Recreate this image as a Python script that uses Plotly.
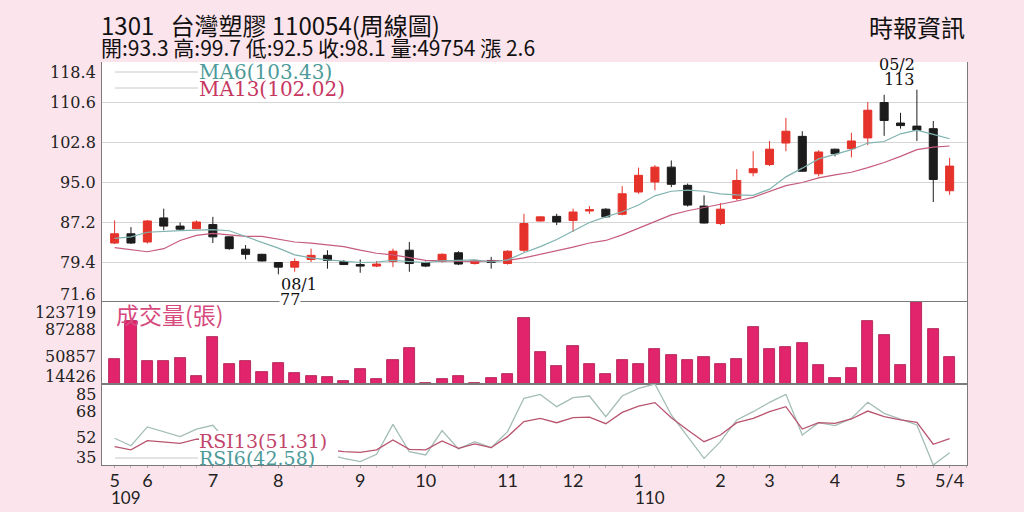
import plotly.graph_objects as go
from plotly.subplots import make_subplots

# weekly data, 109/05 .. 110/05/04 (52 weeks)
weeks = list(range(52))
opens = [83.1, 84.9, 83.3, 88.0, 86.4, 85.9, 86.7, 84.3, 81.9, 80.9,
         79.3, 78.4, 79.9, 80.7, 79.5, 78.9, 78.6, 79.5, 81.7, 79.3,
         79.5, 81.2, 79.1, 79.7, 79.1, 81.7, 87.4, 88.3, 87.5, 89.35,
         89.7, 88.7, 93.05, 95.0, 97.9, 94.35, 90.3, 86.9, 91.8, 96.8,
         98.4, 102.6, 103.9, 96.6, 101.4, 101.5, 103.6, 110.5, 106.5, 105.9,
         105.4, 93.3]
highs = [87.5, 86.2, 87.6, 89.8, 87.1, 87.5, 88.2, 84.4, 82.7, 81.0,
         79.4, 80.1, 82.0, 81.7, 79.8, 79.9, 79.6, 82.0, 83.3, 79.5,
         81.1, 81.5, 79.9, 80.4, 81.7, 88.8, 88.3, 88.8, 89.8, 90.3,
         89.9, 94.2, 97.8, 98.3, 99.2, 94.7, 92.4, 90.9, 97.5, 101.0,
         103.0, 107.5, 104.9, 101.2, 101.5, 104.6, 110.6, 112.0, 108.5, 113.0,
         106.9, 99.7]
lows = [82.9, 82.9, 83.0, 85.6, 85.6, 85.8, 83.1, 81.8, 79.9, 79.5,
        77.0, 77.5, 79.4, 78.1, 78.8, 77.3, 78.4, 78.4, 77.5, 78.4,
        79.3, 78.8, 78.9, 78.1, 78.9, 81.35, 87.3, 86.6, 85.25, 88.8,
        88.0, 88.5, 92.7, 93.4, 94.0, 90.2, 86.9, 86.6, 91.4, 96.1,
        98.1, 101.0, 97.0, 96.1, 100.0, 99.8, 102.2, 104.0, 105.4, 103.0,
        91.1, 92.5]
closes = [84.9, 83.1, 87.4, 86.4, 85.8, 87.2, 84.3, 82.0, 80.9, 79.6,
          78.4, 79.5, 80.7, 79.7, 78.9, 78.6, 79.0, 81.5, 79.1, 78.6,
          80.9, 79.0, 79.7, 79.3, 81.5, 86.9, 88.2, 87.2, 89.15, 89.6,
          88.2, 92.7, 96.3, 97.9, 94.55, 90.5, 87.0, 89.7, 95.3, 97.6,
          101.4, 104.9, 97.1, 100.85, 100.5, 103.0, 109.0, 107.0, 106.0, 105.1,
          95.5, 98.1]
ma6 = [84.0, 84.3, 85.2, 85.4, 85.5, 85.6, 85.7, 85.5, 84.4, 83.3,
       82.1, 80.8, 80.2, 79.8, 79.5, 79.3, 79.4, 79.7, 79.5, 79.3,
       79.6, 79.7, 79.8, 79.4, 79.8, 81.2, 82.4, 83.8, 85.4, 87.1,
       88.2, 89.2, 90.5, 92.3, 93.2, 93.4, 93.2, 92.7, 92.5, 92.4,
       93.6, 96.0, 97.7, 99.5, 100.4, 101.3, 102.6, 102.9, 104.4, 105.1,
       104.3, 103.43]
ma13 = [82.2, 81.8, 81.4, 82.0, 83.6, 84.6, 85.0, 84.7, 84.4, 84.4,
        83.8, 83.3, 83.1, 82.7, 82.4, 81.7, 81.1, 80.8, 80.2, 79.7,
        79.6, 79.5, 79.5, 79.6, 79.7, 80.2, 80.9, 81.5, 82.3, 83.1,
        83.6, 84.7, 86.0, 87.4, 88.6, 89.4, 90.0, 90.6, 91.3, 92.0,
        93.1, 94.3, 94.9, 95.8, 96.4, 96.9, 97.8, 98.8, 100.0, 101.3,
        101.8, 102.02]
volume = [47750, 97950, 45530, 44640, 49080, 25530, 76630, 41080, 45530, 30420,
          42420, 28640, 24640, 23310, 18420, 33980, 21090, 45970, 62410, 16200,
          20650, 24640, 16200, 22420, 27750, 102400, 57080, 37970, 64630, 41080,
          28200, 46420, 41080, 61080, 53520, 46420, 50410, 41080, 48190, 89960,
          61520, 63300, 69080, 39310, 22420, 35750, 97950, 79740, 39750, 123719,
          88180, 49754]
rsi6 = [51.5, 46.9, 58.5, 55.6, 52.5, 57.2, 59.5, 48.0, 42.0, 38.0,
        36.0, 40.0, 45.0, 41.6, 39.1, 37.1, 41.6, 60.1, 43.2, 41.2,
        56.2, 44.9, 49.4, 45.7, 55.6, 76.2, 78.6, 71.0, 76.6, 77.6,
        64.8, 77.6, 82.3, 85.0, 65.9, 52.5, 39.1, 49.4, 62.8, 67.9,
        73.7, 78.6, 53.5, 61.1, 59.3, 63.8, 73.7, 66.9, 63.4, 59.7,
        35.0, 42.58]
rsi13 = [46.3, 44.3, 50.0, 49.0, 48.4, 50.9, 51.0, 47.0, 45.0, 43.0,
         41.5, 43.0, 45.5, 44.3, 43.2, 42.8, 44.3, 50.4, 44.7, 44.3,
         49.8, 45.3, 48.0, 45.7, 52.5, 61.8, 63.8, 61.1, 64.2, 64.6,
         60.5, 67.5, 71.4, 73.5, 64.2, 56.6, 49.4, 53.5, 61.1, 63.8,
         67.9, 71.0, 57.2, 61.1, 60.7, 63.4, 68.3, 64.8, 62.8, 61.3,
         47.8, 51.31]

month_pos = [0, 2, 6, 10, 15, 19, 24, 28, 32, 37, 40, 44, 48, 51]
month_text = ["5", "6", "7", "8", "9", "10", "11", "12", "1", "2", "3", "4", "5", "5/4"]
year_pos = [0, 32]
year_text = ["109", "110"]

price_ticks = [71.6, 79.4, 87.2, 95.0, 102.8, 110.6, 118.4]
vol_ticks = [14426, 50857, 87288, 123719]
rsi_ticks = [35, 52, 68, 85]

title = "1301   台灣塑膠 110054(周線圖)"
quote = "開:93.3 高:99.7 低:92.5 收:98.1 量:49754 漲 2.6"
source = "時報資訊"

PINK_BG = "#fce4ec"
SERIF = "DejaVu Serif"
CJK = "Noto Sans CJK TC"

# plot area in pixels
L, T, W, H = 102, 62, 865, 403


def px(x):
    return (x - L) / W


def py(y):
    return (T + H - y) / H


fig = make_subplots(rows=3, cols=1, shared_xaxes=True, vertical_spacing=0,
                    row_heights=[240, 82, 81])

fig.add_trace(go.Scatter(x=weeks, y=ma13, mode="lines",
                         line=dict(color="#c65b7c", width=1.2)), row=1, col=1)
fig.add_trace(go.Scatter(x=weeks, y=ma6, mode="lines",
                         line=dict(color="#7fb3b0", width=1.2)), row=1, col=1)
fig.add_trace(go.Candlestick(
    x=weeks, open=opens, high=highs, low=lows, close=closes,
    increasing=dict(line=dict(color="#e5322b", width=1), fillcolor="#e5322b"),
    decreasing=dict(line=dict(color="#1c1c1c", width=1), fillcolor="#1c1c1c"),
), row=1, col=1)

fig.add_trace(go.Bar(x=weeks, y=volume, width=0.68,
                     marker=dict(color="#e2246c", line=dict(color="#a8174c", width=0.8))),
              row=2, col=1)

fig.add_trace(go.Scatter(x=weeks, y=rsi6, mode="lines",
                         line=dict(color="#a3bdb6", width=1.3)), row=3, col=1)
fig.add_trace(go.Scatter(x=weeks, y=rsi13, mode="lines",
                         line=dict(color="#b8546f", width=1.3)), row=3, col=1)

ax_line = "#7a7a7a"
fig.update_xaxes(range=[-0.77, 52.06], showgrid=False, zeroline=False,
                 rangeslider_visible=False, showticklabels=False)
fig.update_xaxes(showline=True, mirror=True, linecolor=ax_line, linewidth=1.2, row=2, col=1)
fig.update_xaxes(showline=True, mirror=True, linecolor=ax_line, linewidth=1.2,
                 showticklabels=True, tickvals=month_pos, ticktext=month_text,
                 tickfont=dict(family="Lato", size=18, color="#222"),
                 ticks="outside", ticklen=2, tickcolor="#aaa", ticklabelstandoff=-3,
                 minor=dict(dtick=1, ticks="outside", ticklen=2, tickcolor="#bbb"),
                 row=3, col=1)

fig.update_yaxes(range=[71.6, 118.4], tickvals=price_ticks, showticklabels=False,
                 showgrid=True, gridcolor="#d6d6d6", gridwidth=1, zeroline=False,
                 showline=True, mirror=True, linecolor=ax_line, row=1, col=1)
fig.update_yaxes(range=[14426, 123719], tickvals=vol_ticks, showticklabels=False,
                 showgrid=False, zeroline=False,
                 showline=True, mirror=True, linecolor=ax_line, row=2, col=1)
fig.update_yaxes(range=[35, 85], tickvals=rsi_ticks, showticklabels=False,
                 showgrid=False, zeroline=False,
                 showline=True, mirror=True, linecolor=ax_line, row=3, col=1)

ann = []
tick_font = dict(family=SERIF, size=16, color="#222")
for yref, ticks in (("y", price_ticks), ("y2", vol_ticks), ("y3", rsi_ticks)):
    for k, v in enumerate(ticks):
        shift = 8 if k == 0 else (-10 if k == len(ticks) - 1 else 0)
        label = f"{v:.1f}" if yref == "y" else str(v)
        ann.append(dict(x=0, xref="paper", y=v, yref=yref, text=label, showarrow=False,
                        xanchor="right", yanchor="middle", xshift=-4, yshift=shift,
                        font=tick_font))

for p, t in zip(year_pos, year_text):
    ann.append(dict(x=p, xref="x3", y=py(497), yref="paper", text=t, showarrow=False,
                    xanchor="center", xshift=11, font=dict(family="Lato", size=17, color="#222")))

ann += [
    dict(x=px(99), y=py(24), text=title, font=dict(family=CJK, size=24, color="#111"),
         xanchor="left"),
    dict(x=px(99), y=py(47), text=quote, font=dict(family=CJK, size=21, color="#111"),
         xanchor="left"),
    dict(x=px(967), y=py(26), text=source, font=dict(family=CJK, size=24, color="#111"),
         xanchor="right"),
    dict(x=px(197), y=py(72), text="MA6(103.43)", font=dict(family=SERIF, size=20, color="#4e9a9a"),
         xanchor="left"),
    dict(x=px(197), y=py(89), text="MA13(102.02)", font=dict(family=SERIF, size=20, color="#c8365f"),
         xanchor="left"),
    dict(x=px(917), y=py(64), text="05/2", font=dict(family=SERIF, size=16, color="#111")),
    dict(x=px(917), y=py(80), text="113", font=dict(family=SERIF, size=16, color="#111")),
    dict(x=px(279), y=py(284), text="08/1", font=dict(family=SERIF, size=16, color="#111")),
    dict(x=px(279), y=py(299), text="77", font=dict(family=SERIF, size=16, color="#111"),
         bgcolor="white", borderpad=0),
    dict(x=px(114), y=py(314), text="成交量(張)", font=dict(family=CJK, size=23, color="#d64a7e"),
         xanchor="left"),
    dict(x=px(197), y=py(441), text="RSI13(51.31)", font=dict(family=SERIF, size=19, color="#c2456b"),
         xanchor="left"),
    dict(x=px(197), y=py(458), text="RSI6(42.58)", font=dict(family=SERIF, size=19, color="#4d9a9a"),
         xanchor="left"),
]
for a in ann:
    a.setdefault("xref", "paper")
    a.setdefault("yref", "paper")
    a.setdefault("showarrow", False)
    a.setdefault("yanchor", "middle")

shapes = [
    dict(type="line", xref="paper", yref="paper", x0=px(115), x1=px(198), y0=py(72), y1=py(72),
         line=dict(color="#c8c8c8", width=1)),
    dict(type="line", xref="paper", yref="paper", x0=px(115), x1=px(198), y0=py(88), y1=py(88),
         line=dict(color="#c8c8c8", width=1)),
    # white patch that keeps the RSI lines from running through their labels
    dict(type="rect", xref="paper", yref="paper", x0=px(199), x1=px(338), y0=py(464), y1=py(431),
         fillcolor="white", line=dict(width=0), layer="above"),
    dict(type="line", xref="paper", yref="paper", x0=px(115), x1=px(198), y0=py(458), y1=py(458),
         line=dict(color="#c8c8c8", width=1)),
]

fig.update_layout(
    width=1024, height=512,
    margin=dict(l=L, r=1024 - L - W, t=T, b=512 - T - H),
    paper_bgcolor=PINK_BG, plot_bgcolor="white",
    showlegend=False, bargap=0,
    annotations=ann, shapes=shapes,
)

# drop the page's default body margin so the figure sits at the window corner
fig.write_html("out.html", config={"displayModeBar": False},
               post_script="document.body.style.margin='0';"
                           "document.body.style.overflow='hidden';"
                           f"document.body.style.background='{PINK_BG}';")
